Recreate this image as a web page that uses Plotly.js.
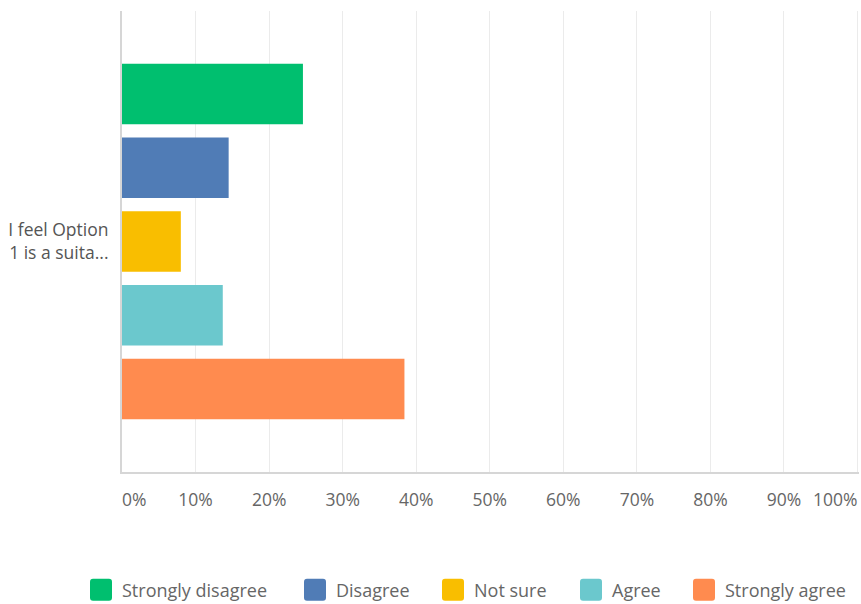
<!DOCTYPE html>
<html>
<head>
<meta charset="utf-8">
<script src="https://cdn.plot.ly/plotly-3.0.1.min.js"></script>
<style>
  html, body { margin: 0; padding: 0; background: #fff; }
  #chart { width: 861px; height: 604px; }
</style>
</head>
<body>
<div id="chart"></div>
<script>
// Survey question (single category) and answer shares in percent
const question = ['I feel Option<br>1 is a suita...'];
const answers = ['Strongly disagree', 'Disagree', 'Not sure', 'Agree', 'Strongly agree'];
const shares = [24.6, 14.5, 8.0, 13.7, 38.4];
const colors = ['#00bf6f', '#507cb6', '#f9be00', '#6bc8cd', '#ff8b4f'];

// Axis ticks
const tickValues = [0, 10, 20, 30, 40, 50, 60, 70, 80, 90, 100];
const tickLabels = ['0%', '10%', '20%', '30%', '40%', '50%', '60%', '70%', '80%', '90%', '100%'];

// Geometry of the plot frame (px)
const M = { l: 122, r: 2, t: 11, b: 132 };
const W = 861, H = 604;
const plotW = W - M.l - M.r;

// one legend box per answer, laid out in a single row under the chart
const legendTextStart = [122, 336, 474, 612, 725];
const legendRowY = 590;
const legendKey = i => (i === 0 ? 'legend' : 'legend' + (i + 1));

const traces = answers.map((name, i) => ({
  type: 'bar',
  orientation: 'h',
  name: name,
  legend: legendKey(i),
  y: question,
  x: [shares[i]],
  marker: { color: colors[i] },
  hoverinfo: 'x+name'
}));

const layout = {
  width: W,
  height: H,
  margin: M,
  paper_bgcolor: '#ffffff',
  plot_bgcolor: '#ffffff',
  font: { family: '"Open Sans", sans-serif', size: 17.5, color: '#666666' },
  barmode: 'group',
  bargap: 0.2,
  bargroupgap: 0.18,
  showlegend: true,
  xaxis: {
    range: [0, 100.2],
    tickvals: tickValues,
    ticktext: tickLabels,
    ticklabeloverflow: 'allow',
    showgrid: true,
    gridcolor: '#ebebeb',
    gridwidth: 1,
    zeroline: false,
    showline: true,
    linecolor: '#d6d6d6',
    linewidth: 2,
    ticks: '',
    ticklabelstandoff: 11,
    tickfont: { size: 17.5, color: '#666666' },
    fixedrange: true
  },
  yaxis: {
    type: 'category',
    range: [0.5, -0.5],
    showgrid: false,
    zeroline: false,
    showline: true,
    linecolor: '#d6d6d6',
    linewidth: 2,
    ticks: '',
    ticklabelstandoff: 8,
    tickfont: { size: 17.5, color: '#555555' },
    fixedrange: true
  }
};

answers.forEach((_, i) => {
  layout[legendKey(i)] = {
    orientation: 'h',
    x: (legendTextStart[i] - 40 - M.l) / plotW,
    xanchor: 'left',
    yref: 'container',
    y: (H - legendRowY) / H,
    yanchor: 'middle',
    font: { size: 18, color: '#666666' },
    bgcolor: 'rgba(0,0,0,0)',
    itemclick: false,
    itemdoubleclick: false
  };
});

const SWATCH = 11, RADIUS = 3;
const LEGEND_BAND_TOP = 560;

function roundedSquare(cx, cy) {
  const s = SWATCH, r = RADIUS;
  return `M${cx - s + r},${cy - s}H${cx + s - r}A${r},${r} 0 0 1 ${cx + s},${cy - s + r}` +
    `V${cy + s - r}A${r},${r} 0 0 1 ${cx + s - r},${cy + s}H${cx - s + r}` +
    `A${r},${r} 0 0 1 ${cx - s},${cy + s - r}V${cy - s + r}A${r},${r} 0 0 1 ${cx - s + r},${cy - s}Z`;
}

function finishLook(gd) {
  // end tick labels hug the plot edges: first starts at 0%, last ends at 100%
  const xt = gd.querySelectorAll('.xtick text');
  if (xt.length) {
    if (xt[0].getAttribute('text-anchor') !== 'start') xt[0].setAttribute('text-anchor', 'start');
    const last = xt[xt.length - 1];
    if (last.getAttribute('text-anchor') !== 'end') last.setAttribute('text-anchor', 'end');
  }

  // larger rounded legend swatches, each sitting just left of its label
  const top = gd.getBoundingClientRect().top;
  const labels = Array.from(gd.querySelectorAll('text'))
    .map(t => ({ t, r: t.getBoundingClientRect() }))
    .filter(o => o.r.width > 0 && o.r.top - top > LEGEND_BAND_TOP);
  gd.querySelectorAll('path').forEach(p => {
    if (p.__bigD && p.getAttribute('d') === p.__bigD) return;
    const pr = p.getBoundingClientRect();
    if (!pr.width || pr.top - top < LEGEND_BAND_TOP || pr.width > 30 || pr.height > 30) return;
    let best = null, gap = Infinity;
    labels.forEach(o => {
      const d = o.r.left - pr.right;
      if (d > -2 && d < gap) { gap = d; best = o; }
    });
    if (!best) return;
    const bb = p.getBBox();
    const cx = bb.x + bb.width / 2 + ((best.r.left - 10 - SWATCH) - (pr.left + pr.width / 2));
    const cy = bb.y + bb.height / 2;
    p.__bigD = roundedSquare(cx, cy);
    p.setAttribute('d', p.__bigD);
    // let the bigger swatch show even if its legend box is clipped
    let node = p.parentNode;
    while (node && node !== gd) {
      if (node.getAttribute && node.getAttribute('clip-path')) node.removeAttribute('clip-path');
      node = node.parentNode;
    }
  });
}

const gdiv = document.getElementById('chart');
new MutationObserver(() => finishLook(gdiv)).observe(gdiv, { subtree: true, childList: true, attributes: true });

Plotly.newPlot(gdiv, traces, layout, { displayModeBar: false, staticPlot: true }).then(gd => {
  finishLook(gd);
  setTimeout(() => finishLook(gd), 30);
  setTimeout(() => finishLook(gd), 200);
});
</script>
</body>
</html>
